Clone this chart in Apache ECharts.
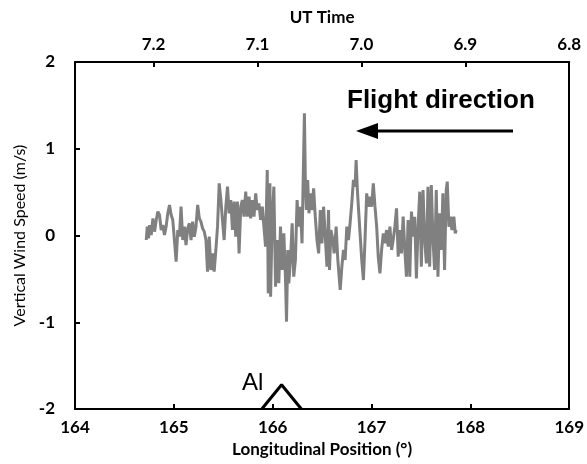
<!DOCTYPE html>
<html>
<head>
<meta charset="utf-8">
<script src="https://cdn.jsdelivr.net/npm/echarts@6/dist/echarts.min.js"></script>
<style>
  html, body { margin: 0; padding: 0; background: #fff; }
  #chart { width: 587px; height: 464px; }
</style>
</head>
<body>
<div id="chart"></div>
<script>
// 垂直风速数据 (经度, m/s)
var windLon = [
  164.721,164.731,164.744,164.755,164.771,164.788,164.805,164.822,164.838,164.855,
  164.872,164.889,164.905,164.922,164.939,164.956,164.973,164.989,165.006,165.023,
  165.040,165.056,165.073,165.090,165.107,165.123,165.140,165.157,165.174,165.190,
  165.207,165.224,165.241,165.258,165.274,165.291,165.308,165.325,165.341,165.358,
  165.375,165.392,165.408,165.425,165.442,165.459,165.476,165.492,165.509,165.526,
  165.543,165.559,165.576,165.593,165.610,165.626,165.643,165.660,165.677,165.693,
  165.710,165.727,165.744,
  165.761,165.777,165.794,165.811,165.828,165.844,165.861,165.878,165.895,165.911,
  165.928,165.945,165.955,165.972,165.979,165.995,166.012,166.029,166.046,166.062,
  166.079,166.096,166.113,166.129,166.140,166.153,166.163,166.180,166.197,166.213,
  166.230,166.247,166.264,166.280,166.297,166.314,166.321,166.331,166.341,166.354,
  166.367,166.381,166.398,166.414,166.431,166.448,166.465,166.482,166.498,166.515,
  166.532,166.549,166.565,166.575,166.589,166.609,166.622,166.642,166.659,166.683,
  166.700,166.716,166.733,166.750,166.767,166.783,166.800,
  166.817,166.834,166.844,166.857,166.867,166.884,166.901,166.918,166.934,166.951,
  166.968,166.985,167.001,167.018,167.035,167.052,167.068,167.085,167.102,167.119,
  167.135,167.152,167.169,167.186,167.203,167.219,167.236,167.253,167.270,167.286,
  167.303,167.320,167.337,167.353,167.370,167.387,167.404,167.421,167.437,167.454,
  167.471,167.488,167.504,167.521,167.538,167.555,167.571,167.588,167.605,167.622,
  167.638,167.655,167.672,167.689,167.706,167.722,167.739,167.756,167.766,167.783,
  167.800,167.813,167.833,167.847,167.857
];
var windSpeed = [
  -0.052,0.102,-0.033,0.121,0.006,0.198,0.044,0.179,0.275,0.236,
  0.063,0.121,0.006,0.102,0.256,0.352,0.236,0.179,-0.052,-0.302,
  0.063,-0.013,0.332,-0.052,0.102,-0.110,0.083,0.140,-0.052,0.159,
  -0.013,0.102,0.352,0.198,0.159,0.083,0.044,-0.052,-0.417,-0.013,
  -0.398,-0.206,-0.417,-0.167,0.102,0.601,0.409,0.179,-0.052,0.332,
  0.563,0.256,0.409,0.063,0.390,-0.013,0.390,-0.206,0.332,0.409,
  0.217,0.505,0.217,
  0.448,0.198,0.409,0.217,0.486,0.294,0.371,0.179,0.332,0.102,
  -0.129,0.755,-0.667,0.601,-0.705,0.198,0.563,-0.590,-0.052,-0.551,
  0.102,-0.398,0.025,-0.475,-0.993,-0.167,-0.551,-0.282,0.140,-0.475,
  -0.282,0.409,0.102,0.332,-0.090,0.986,1.408,0.601,0.294,0.640,
  0.256,0.486,0.294,0.544,0.217,-0.052,-0.206,0.294,-0.090,0.332,
  -0.013,-0.359,0.294,-0.398,0.063,-0.052,-0.206,0.102,-0.282,-0.628,
  -0.359,-0.167,-0.282,0.102,-0.052,0.140,0.371,
  0.640,0.563,0.870,0.524,0.332,0.025,-0.282,-0.513,-0.052,0.486,
  0.332,0.448,0.332,0.601,0.332,0.102,-0.244,-0.436,-0.167,0.025,
  -0.090,0.063,-0.129,0.102,-0.167,-0.052,0.102,0.313,-0.244,0.063,
  -0.206,0.217,-0.167,-0.475,0.179,-0.475,0.275,-0.013,0.217,-0.494,
  0.102,0.505,-0.359,0.524,-0.052,-0.321,0.563,-0.359,0.582,-0.052,
  -0.398,0.524,-0.475,0.256,-0.167,0.486,-0.398,0.524,0.621,0.102,
  0.217,0.063,0.217,0.025,0.063
];
// Al 三角标记
var triangleLon = [165.89, 166.09, 166.29];
var triangleVal = [-2, -1.72, -2];
// 坐标轴刻度
var lonTicks = [164, 165, 166, 167, 168, 169];
var utTicks = [7.2, 7.1, 7.0, 6.9, 6.8];
var speedTicks = [-2, -1, 0, 1, 2];

var windData = windLon.map(function (x, i) { return [x, windSpeed[i]]; });
var triData = triangleLon.map(function (x, i) { return [x, triangleVal[i]]; });

var labelFont = 'Lato';
var axisLine = { show: true, onZero: false, lineStyle: { color: '#000', width: 2 } };
var axisTick = { show: true, inside: true, length: 5, lineStyle: { color: '#000', width: 2 } };

var myChart = echarts.init(document.getElementById('chart'));
var option = {
  animation: false,
  backgroundColor: '#fff',
  grid: { left: 75, right: 15, top: 62, bottom: 55 },
  xAxis: [
    {
      type: 'value',
      min: lonTicks[0],
      max: lonTicks[lonTicks.length - 1],
      interval: 1,
      position: 'bottom',
      name: 'Longitudinal Position (°)',
      nameLocation: 'middle',
      nameGap: 32,
      nameTextStyle: { fontFamily: labelFont, fontWeight: 'bold', fontSize: 17, color: '#000' },
      axisLine: axisLine,
      axisTick: axisTick,
      axisLabel: { fontFamily: labelFont, fontWeight: 'bold', fontSize: 17, color: '#000', margin: 10 },
      splitLine: { show: false }
    },
    {
      type: 'value',
      min: utTicks[utTicks.length - 1],
      max: 7.2756,
      interval: 0.1,
      inverse: true,
      position: 'top',
      name: 'UT Time',
      nameLocation: 'middle',
      nameGap: 36,
      nameTextStyle: { fontFamily: labelFont, fontWeight: 'bold', fontSize: 17, color: '#000' },
      axisLine: axisLine,
      axisTick: axisTick,
      axisLabel: {
        fontFamily: labelFont, fontWeight: 'bold', fontSize: 17, color: '#000', margin: 9,
        formatter: function (v) {
          var r = Math.round(v * 10) / 10;
          return Math.abs(v - r) < 0.001 && r <= 7.2 ? r.toFixed(1) : '';
        }
      },
      splitLine: { show: false }
    }
  ],
  yAxis: [
    {
      type: 'value',
      min: speedTicks[0],
      max: speedTicks[speedTicks.length - 1],
      interval: 1,
      name: 'Vertical Wind Speed (m/s)',
      nameLocation: 'middle',
      nameGap: 45,
      nameTextStyle: { fontFamily: labelFont, fontSize: 16, color: '#000' },
      axisLine: axisLine,
      axisTick: axisTick,
      axisLabel: { fontFamily: labelFont, fontWeight: 'bold', fontSize: 17, color: '#000', margin: 20 },
      splitLine: { show: false }
    },
    {
      type: 'value',
      min: -2,
      max: 2,
      position: 'right',
      axisLine: axisLine,
      axisTick: { show: false },
      axisLabel: { show: false },
      splitLine: { show: false }
    }
  ],
  series: [
    {
      name: 'wind',
      type: 'line',
      data: windData,
      showSymbol: false,
      lineStyle: { color: '#808080', width: 3 },
      z: 3
    },
    {
      name: 'Al',
      type: 'line',
      data: triData,
      showSymbol: false,
      lineStyle: { color: '#000', width: 3 },
      z: 4
    }
  ],
  graphic: [
    {
      type: 'text', left: 347, top: 88,
      style: { text: 'Flight direction', font: 'bold 26px "Liberation Sans"', fill: '#000' }
    },
    {
      type: 'line', shape: { x1: 372, y1: 131, x2: 513, y2: 131 },
      style: { stroke: '#000', lineWidth: 3 }
    },
    {
      type: 'polygon', shape: { points: [[356, 131], [378, 123], [378, 139]] },
      style: { fill: '#000' }
    },
    {
      type: 'text', left: 242, top: 371,
      style: { text: 'Al', font: '24px "Liberation Sans"', fill: '#000' }
    }
  ]
};
myChart.setOption(option);
</script>
</body>
</html>
